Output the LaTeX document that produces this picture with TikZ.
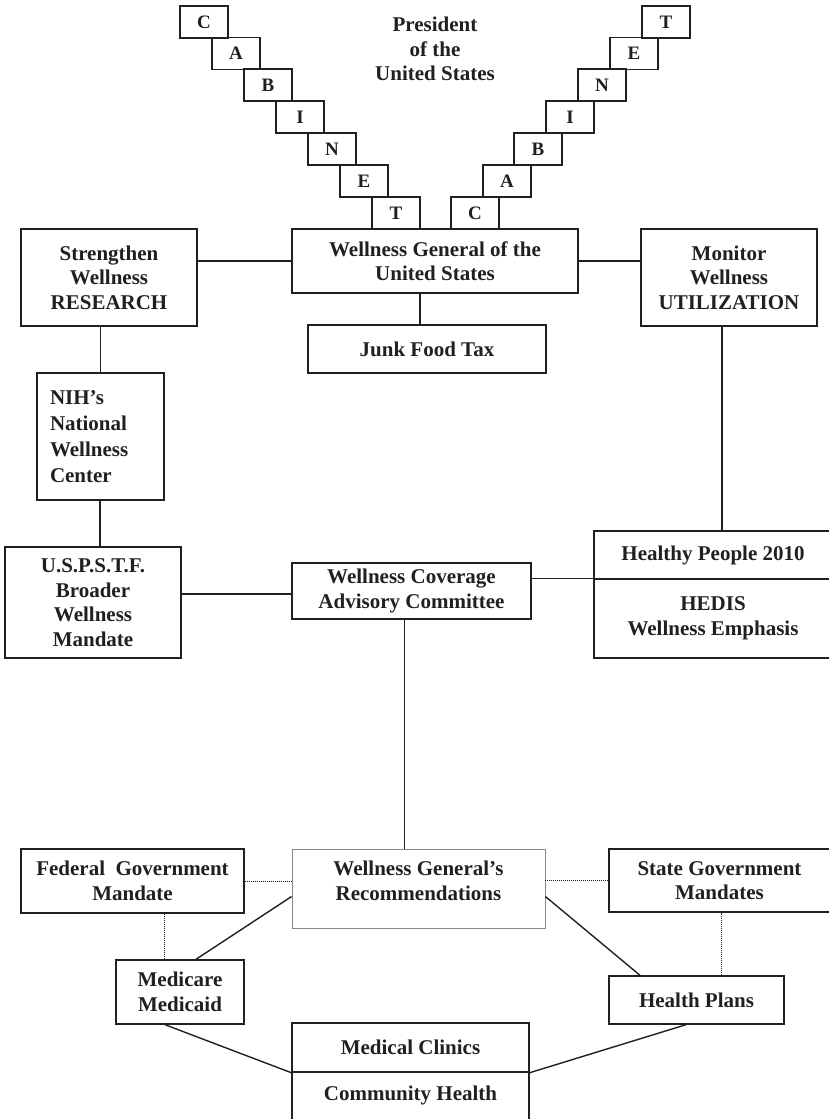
\documentclass[tikz,border=0pt]{standalone}
\usepackage{fontspec}
\setmainfont{Liberation Serif}
\usepackage{tikz}
\usetikzlibrary{calc}
\definecolor{ink}{HTML}{231F20}
\definecolor{pale}{HTML}{8A8787}

\begin{document}
\begin{tikzpicture}[x=1pt, y=-1pt, ink, line width=1.4pt,
  box/.style={draw=ink, inner sep=0pt, align=center, text=ink,
    font=\fontsize{21}{24.5}\selectfont\bfseries},
  letter/.style={box, minimum width=48, minimum height=32,
    font=\fontsize{19}{22}\selectfont\bfseries},
  link/.style={draw=ink, line width=1.4pt},
  dots/.style={draw=ink, line width=0.7pt, dash pattern=on 0.9pt off 1.1pt}]
  \useasboundingbox (0,0) rectangle (828,1119);

  % Top: president and the two cabinet stairs
  \node[box, draw=none] (pres) at (435,49) {President\\of the\\United States};
  \node[letter] (lc0) at (204,22) {C};
  \node[letter] (lc1) at (236,53.5) {A};
  \node[letter] (lc2) at (268,85) {B};
  \node[letter] (lc3) at (300,117) {I};
  \node[letter] (lc4) at (332,149) {N};
  \node[letter] (lc5) at (364,181) {E};
  \node[letter] (lc6) at (396,213) {T};
  \node[letter] (rc0) at (475,213) {C};
  \node[letter] (rc1) at (507,181) {A};
  \node[letter] (rc2) at (538,149) {B};
  \node[letter] (rc3) at (570,117) {I};
  \node[letter] (rc4) at (602,85) {N};
  \node[letter] (rc5) at (634,53.5) {E};
  \node[letter] (rc6) at (666,22) {T};

  % Row: wellness general
  \node[box, minimum width=286, minimum height=64] (wg) at (435,261) {Wellness General of the\\United States};
  \node[box, minimum width=176, minimum height=97] (research) at (109,277.5) {Strengthen\\Wellness\\RESEARCH};
  \node[box, minimum width=176, minimum height=97] (monitor) at (729,277.5) {Monitor\\Wellness\\UTILIZATION};
  \node[box, minimum width=238, minimum height=48] (junk) at (427,349) {Junk Food Tax};
  \draw[link] (wg.west) -- (wg.west -| research.east);
  \draw[link] (wg.east) -- (wg.east -| monitor.west);
  \draw[link] ([xshift=-7pt]junk.north) -- ([xshift=-7pt]junk.north |- wg.south);

  % Left column
  \node[box, minimum width=127, minimum height=127, text width=101, align=left,
    font=\fontsize{21}{26}\selectfont\bfseries] (nih) at (100.5,436.5) {NIH’s\\National\\Wellness\\Center};
  \node[box, minimum width=176, minimum height=111] (usp) at (93,602.5) {U.S.P.S.T.F.\\Broader\\Wellness\\Mandate};
  \draw[link] (nih.north) -- (nih.north |- research.south);
  \draw[link] ([xshift=-0.5pt]nih.south) -- ([xshift=-0.5pt]nih.south |- usp.north);

  % Middle row: coverage committee
  \node[box, minimum width=239, minimum height=56] (wcac) at (411.5,591) {Wellness Coverage\\Advisory Committee};
  \node[box, minimum width=238, minimum height=48] (hp) at (713,555) {Healthy People 2010};
  \node[box, minimum width=238, minimum height=79] (hedis) at (713,618.5) {HEDIS\\Wellness Emphasis};
  \draw[link] ([yshift=-3pt]wcac.west) -- ([yshift=-3pt]wcac.west -| usp.east);
  \draw[link] (hedis.north west) -- (hedis.north west -| wcac.east);
  \draw[link] ([xshift=-7pt]monitor.south) -- ([xshift=-7pt]monitor.south |- hp.north);

  % Bottom: recommendations and mandates
  \node[box, draw=pale, line width=0.8pt, minimum width=253, minimum height=79] (wgr) at (418.5,888.5) {Wellness General’s\\Recommendations\\[-8.5pt]};
  \node[box, minimum width=223, minimum height=64] (fed) at (132.5,881) {Federal\ \ Government\\Mandate};
  \node[box, minimum width=221, minimum height=63] (state) at (719.5,880.5) {State Government\\Mandates};
  \node[box, minimum width=128, minimum height=64] (medi) at (180,992) {Medicare\\Medicaid};
  \node[box, minimum width=175, minimum height=48] (plans) at (696.5,1000) {Health Plans};
  \node[box, minimum width=237, minimum height=49] (clinics) at (410.5,1047.5) {Medical Clinics};
  \node[box, minimum width=237, minimum height=55] (community) at (410.5,1099.5) {Community Health\\[-11.5pt]};
  \draw[link] ([xshift=-7pt]wcac.south) -- ([xshift=-7pt]wcac.south |- wgr.north);
  \draw[dots] (fed.east) -- (fed.east -| wgr.west);
  \draw[dots] (state.west) -- (state.west -| wgr.east);
  \draw[dots] ([xshift=-16pt]medi.north) -- ([xshift=-16pt]medi.north |- fed.south);
  \draw[dots] ([xshift=24.5pt]plans.north) -- ([xshift=24.5pt]plans.north |- state.south);
  \draw[link] ([yshift=-8pt]wgr.west) -- ([xshift=16pt]medi.north);
  \draw[link] ([yshift=-8pt]wgr.east) -- ([xshift=-56.5pt]plans.north);
  \draw[link] ([xshift=-15pt]medi.south) -- (clinics.south west);
  \draw[link] ([xshift=-10.5pt]plans.south) -- (clinics.south east);
\end{tikzpicture}
\end{document}
